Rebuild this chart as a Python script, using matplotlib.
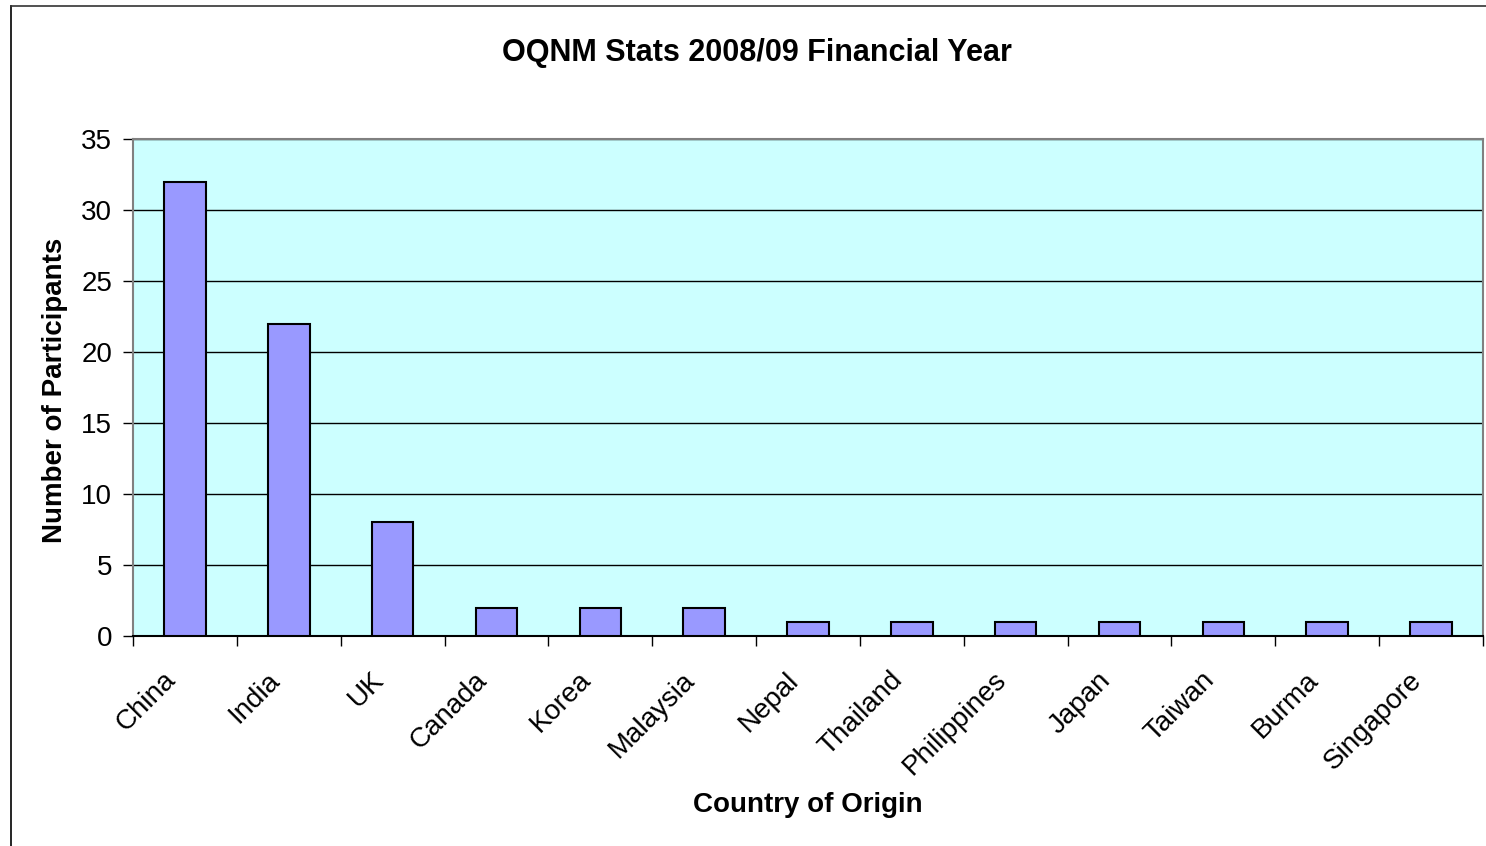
import matplotlib
matplotlib.use("Agg")
import matplotlib.pyplot as plt
import matplotlib.transforms as mtransforms
import numpy as np
from matplotlib.lines import Line2D

# data
countries = ["China", "India", "UK", "Canada", "Korea", "Malaysia", "Nepal",
             "Thailand", "Philippines", "Japan", "Taiwan", "Burma", "Singapore"]
participants = [32, 22, 8, 2, 2, 2, 1, 1, 1, 1, 1, 1, 1]
y_ticks = [0, 5, 10, 15, 20, 25, 30, 35]

plt.rcParams['font.family'] = ['Liberation Sans', 'DejaVu Sans']

W, H = 1486, 846
fig = plt.figure(figsize=(W / 100, H / 100), dpi=100)
ax = fig.add_axes([133 / W, 1 - 636 / H, 1350 / W, 497 / H])

x = np.arange(len(countries))
ax.set_facecolor('#CCFFFF')
ax.bar(x, participants, width=0.4, color='#9999FF', edgecolor='black',
       linewidth=1.5, zorder=3)

ax.set_xlim(-0.5, len(countries) - 0.5)
ax.set_ylim(0, 35)
ax.set_yticks(y_ticks)
ax.yaxis.grid(True, color='black', linewidth=1, zorder=1)
ax.set_axisbelow(True)

# tick marks at category boundaries, labels drawn by hand (rotated, shifted left)
ax.set_xticks(np.arange(-0.5, len(countries)))
ax.set_xticklabels([])
ax.tick_params(axis='x', length=7, width=1, color='black')
ax.tick_params(axis='y', length=7, width=1, labelsize=20, pad=8)

offset = mtransforms.ScaledTranslation(-0.22, -0.31, fig.dpi_scale_trans)
for i, name in enumerate(countries):
    ax.text(i, 0, name, transform=ax.get_xaxis_transform() + offset,
            rotation=45, rotation_mode='anchor', ha='right', va='top',
            fontsize=20)

for side in ['top', 'right', 'left']:
    ax.spines[side].set_color('#808080')
    ax.spines[side].set_linewidth(1.5)
ax.spines['bottom'].set_color('black')
ax.spines['bottom'].set_linewidth(1.5)

fig.text(55 / W, 1 - 390 / H, 'Number of Participants', rotation=90,
         ha='center', va='center', fontsize=20, fontweight='bold')
fig.text(808 / W, 1 - 805 / H, 'Country of Origin',
         ha='center', va='center', fontsize=20, fontweight='bold')
fig.text(757 / W, 1 - 53 / H, 'OQNM Stats 2008/09 Financial Year',
         ha='center', va='center', fontsize=22, fontweight='bold')

# chart frame (only left and top edges visible)
fig.add_artist(Line2D([10.5 / W, 10.5 / W], [0, 1 - 6 / H],
                      transform=fig.transFigure, color='black', linewidth=1.2))
fig.add_artist(Line2D([10.5 / W, 1], [1 - 6 / H, 1 - 6 / H],
                      transform=fig.transFigure, color='#333333', linewidth=1.2))

fig.savefig('out.png', dpi=100)
